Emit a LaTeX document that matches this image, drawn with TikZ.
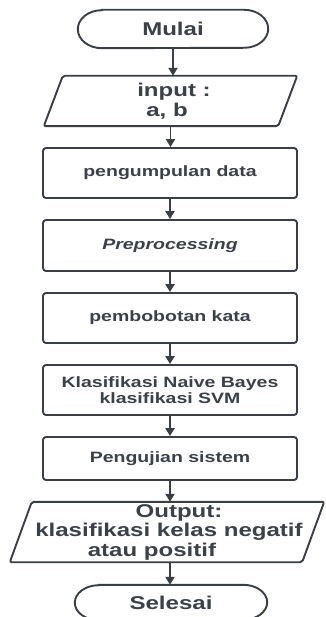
\documentclass[tikz,border=0pt]{standalone}
\usepackage{fontspec}
\setmainfont{Liberation Sans}[FakeStretch=1.3]
\usetikzlibrary{arrows.meta}
\definecolor{ink}{RGB}{58,62,69}
\definecolor{txt}{RGB}{60,65,73}
\begin{document}
\begin{tikzpicture}[x=1pt,y=1pt,
  line/.style={draw=ink, line width=1.9pt},
  arr/.style={draw=ink, line width=1.9pt, -{Triangle[width=9pt,length=8pt]}},
  bigtxt/.style={text=txt, font=\fontsize{18.5}{19.5}\selectfont\bfseries, align=center, inner sep=0pt},
  smalltxt/.style={text=txt, font=\fontsize{15}{15.5}\selectfont\bfseries, align=center, inner sep=0pt},
  stepbox/.style={smalltxt, draw=ink, line width=1.9pt, rounded corners=3pt, minimum width=254pt}
]
\useasboundingbox[fill=white] (0,0) rectangle (325,-617);

% Mulai
\node[bigtxt, minimum width=190pt, minimum height=38pt] (mulai) at (173,-29) {Mulai};
\draw[line] ([xshift=24pt]mulai.north west) -- ([xshift=-24pt]mulai.north east)
  arc[start angle=90, end angle=-90, x radius=24pt, y radius=19pt]
  -- ([xshift=24pt]mulai.south west)
  arc[start angle=270, end angle=90, x radius=24pt, y radius=19pt] -- cycle;

% input
\node[bigtxt, minimum width=253pt, minimum height=50pt] (inp) at (170.5,-101)
  {\hspace*{7pt}input :\\ a, b\hspace*{7pt}};
\draw[line, rounded corners=2pt] ([xshift=19pt]inp.north west) -- (inp.north east)
  -- ([xshift=-19pt]inp.south east) -- (inp.south west) -- cycle;

% process boxes
\node[stepbox, minimum height=50pt] (b1) at (170,-173) {pengumpulan data};
\node[stepbox, minimum height=51pt] (b2) at (170,-245.5) {\itshape Preprocessing};
\node[stepbox, minimum height=50pt] (b3) at (170,-318) {pembobotan kata};
\node[stepbox, minimum height=50pt] (b4) at (170,-390) {Klasifikasi Naive Bayes\\ klasifikasi SVM};
\node[stepbox, minimum height=43pt] (b5) at (170,-458.5) {Pengujian sistem};

% output
\node[bigtxt, minimum width=314pt, minimum height=60pt] (out) at (167,-532)
  {\hspace*{24pt}Output:\\ \hspace*{4pt}klasifikasi kelas negatif\\ atau positif\hspace*{30pt}};
\draw[line, rounded corners=2pt] ([xshift=22pt]out.north west) -- (out.north east)
  -- ([xshift=-22pt]out.south east) -- (out.south west) -- cycle;

% Selesai
\node[bigtxt, minimum width=192pt, minimum height=35pt] (sel) at (171,-602.5) {Selesai};
\draw[line] ([xshift=24pt]sel.north west) -- ([xshift=-24pt]sel.north east)
  arc[start angle=90, end angle=-90, x radius=24pt, y radius=17.5pt]
  -- ([xshift=24pt]sel.south west)
  arc[start angle=270, end angle=90, x radius=24pt, y radius=17.5pt] -- cycle;

% connectors
\draw[arr] (mulai.south) -- (mulai.south |- inp.north);
\draw[arr] (inp.south) -- (inp.south |- b1.north);
\draw[arr] (b1.south) -- (b2.north);
\draw[arr] (b2.south) -- (b3.north);
\draw[arr] (b3.south) -- (b4.north);
\draw[arr] (b4.south) -- (b5.north);
\draw[arr] (b5.south) -- (b5.south |- out.north);
\draw[arr] (b5.south |- out.south) -- (b5.south |- sel.north);
\end{tikzpicture}
\end{document}
